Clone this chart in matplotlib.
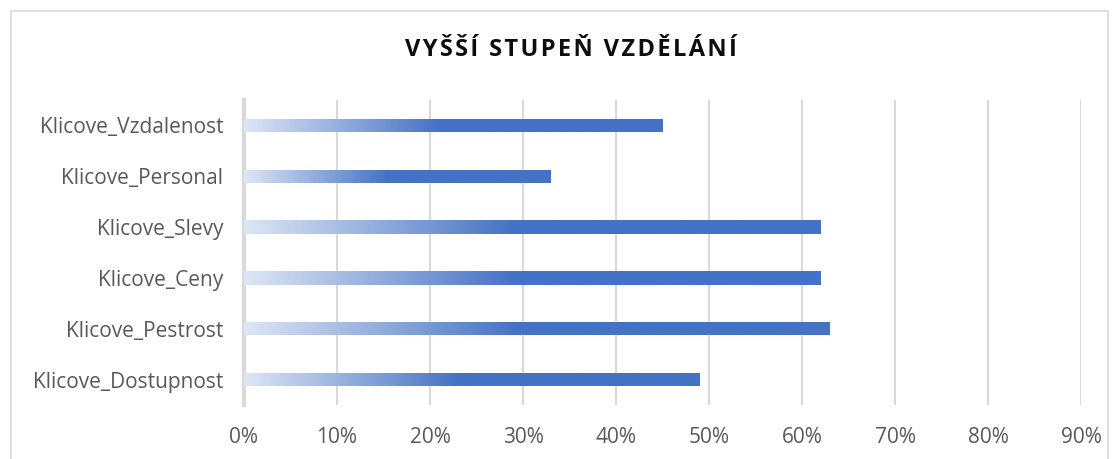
import numpy as np
import matplotlib.pyplot as plt
from matplotlib.colors import LinearSegmentedColormap
from matplotlib.patches import Rectangle

# Data
categories = ["Klicove_Dostupnost", "Klicove_Pestrost", "Klicove_Ceny",
              "Klicove_Slevy", "Klicove_Personal", "Klicove_Vzdalenost"]
values = [0.49, 0.63, 0.62, 0.62, 0.33, 0.45]
xticks = [0.0, 0.1, 0.2, 0.3, 0.4, 0.5, 0.6, 0.7, 0.8, 0.9]
title = "VYŠŠÍ STUPEŇ VZDĚLÁNÍ"

plt.rcParams["font.family"] = ["Open Sans", "DejaVu Sans"]

fig = plt.figure(figsize=(11.2, 4.59), dpi=100)
fig.patches.append(Rectangle((11 / 1120, -0.01), (1108 - 11) / 1120, 1 - 11 / 459 + 0.01,
                             transform=fig.transFigure, fill=False,
                             edgecolor="#d9d9d9", linewidth=1.2))
ax = fig.add_axes([244 / 1120, 54 / 459, 837 / 1120, 305 / 459])

cmap = LinearSegmentedColormap.from_list(
    "grad", [(0.0, "#dde6f5"), (0.47, "#4472c4"), (1.0, "#4472c4")])

y = np.arange(len(categories))
bars = ax.barh(y, values, height=0.26, color="none", edgecolor="none", zorder=3)
grad = np.linspace(0, 1, 256).reshape(1, -1)
for bar, v in zip(bars, values):
    yb = bar.get_y()
    im = ax.imshow(grad, cmap=cmap, aspect="auto", zorder=3,
                   extent=[0, v, yb, yb + bar.get_height()])
    im.set_clip_path(bar)

ax.set_xlim(0, 0.9)
ax.set_ylim(-0.5, len(categories) - 0.5)
ax.set_xticks(xticks)
ax.set_xticklabels([f"{int(round(t * 100))}%" for t in xticks])
ax.set_yticks(y)
ax.set_yticklabels(categories)
ax.tick_params(axis="both", length=0, labelsize=15, labelcolor="#595959")
ax.tick_params(axis="x", pad=16)
ax.tick_params(axis="y", pad=15)
ax.grid(axis="x", color="#d9d9d9", linewidth=1.5, zorder=0)
ax.set_axisbelow(True)
for side in ["top", "right", "bottom"]:
    ax.spines[side].set_visible(False)
ax.spines["left"].set_color("#d9d9d9")
ax.spines["left"].set_linewidth(3)

# letter-spaced title
spaced = "\u200a".join(title)
fig.text(0.51, 1 - 50 / 459, spaced, ha="center", va="center",
         fontsize=17, fontweight="bold", color="#0d0d0d")

fig.savefig("out.png", dpi=100)
